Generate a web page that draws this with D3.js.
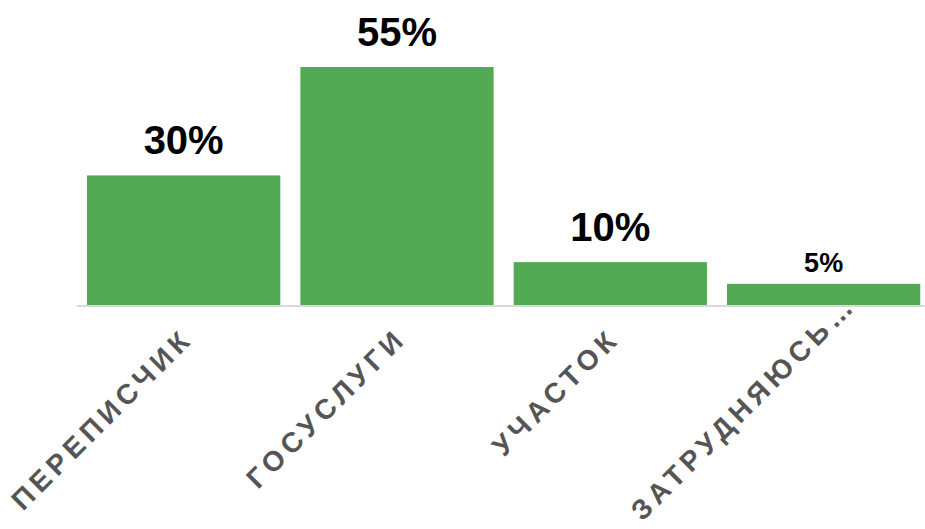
<!DOCTYPE html>
<html>
<head>
<meta charset="utf-8">
<script src="https://cdn.jsdelivr.net/npm/d3@7"></script>
<style>
  body { margin: 0; background: #fff; }
  svg { display: block; font-family: "Liberation Sans", Arial, sans-serif; }
</style>
</head>
<body>
<div class="chart"></div>
<script>
// Data
const categories = ["ПЕРЕПИСЧИК", "ГОСУСЛУГИ", "УЧАСТОК", "ЗАТРУДНЯЮСЬ…"];
const values = [30, 55, 10, 5];
const valueLabels = ["30%", "55%", "10%", "5%"];

const width = 925;
const height = 529;
const baseline = 305.5;

const data = categories.map((c, i) => ({cat: c, value: values[i], label: valueLabels[i]}));

const svg = d3.select(".chart")
  .append("svg")
    .attr("width", width)
    .attr("height", height);

// x scale: bands for the categories
const x = d3.scaleBand()
  .domain(categories)
  .range([77, 930.3])
  .paddingInner(0.094)
  .paddingOuter(0.047);

// y scale: percent -> px (55% reaches y=67)
const y = d3.scaleLinear()
  .domain([0, 55])
  .range([baseline, 67]);

// bars
svg.selectAll("rect.bar")
  .data(data)
  .enter()
  .append("rect")
    .attr("class", "bar")
    .attr("x", d => x(d.cat))
    .attr("y", d => y(d.value))
    .attr("width", x.bandwidth())
    .attr("height", d => y(0) - y(d.value))
    .attr("fill", "#52ab52");

// baseline
svg.append("line")
  .attr("x1", 77)
  .attr("x2", width)
  .attr("y1", baseline + 0.5)
  .attr("y2", baseline + 0.5)
  .attr("stroke", "#d9d9d9")
  .attr("stroke-width", 2);

// value labels above the bars (small value gets a smaller font)
svg.selectAll("text.value")
  .data(data)
  .enter()
  .append("text")
    .attr("class", "value")
    .attr("x", d => x(d.cat) + x.bandwidth() / 2)
    .attr("y", d => y(d.value) - (d.value < 8 ? 12 : 21))
    .attr("text-anchor", "middle")
    .attr("font-weight", "bold")
    .attr("font-size", d => d.value < 8 ? "27px" : "40px")
    .attr("fill", "#000")
    .text(d => d.label);

// category labels, rotated -45deg, end anchored under the bar
const labelY = 340;
const catLabels = svg.selectAll("text.cat")
  .data(data)
  .enter()
  .append("text")
    .attr("class", "cat")
    .attr("text-anchor", "end")
    .attr("font-weight", "bold")
    .attr("font-size", "28px")
    .attr("letter-spacing", "5px")
    .attr("fill", "#555")
    .text(d => d.cat);

// long labels would run off the bottom: lift them up
catLabels.attr("transform", function(d) {
  const len = this.getComputedTextLength();
  let ax = x(d.cat) + x.bandwidth() / 2 + 11;
  let ay = labelY;
  const over = ay + len * Math.SQRT1_2 - (height - 7);
  if (over > 0) { ax += over * 0.7; ay -= over; }
  return `translate(${ax}, ${ay}) rotate(-45)`;
});
</script>
</body>
</html>
